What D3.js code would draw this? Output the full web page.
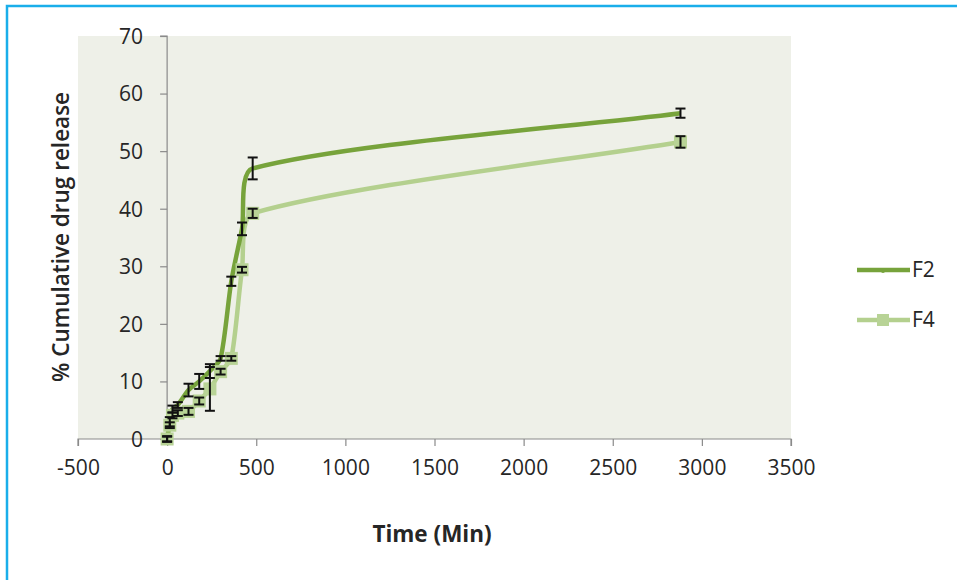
<!DOCTYPE html>
<html><head><meta charset="utf-8">
<script src="https://cdn.jsdelivr.net/npm/d3@7"></script>
<style>body{margin:0;background:#fff;}svg{display:block;font-family:"Open Sans",sans-serif;}</style>
</head><body><svg id="c" width="957" height="580"></svg>
<script>
const times = [0, 15, 30, 60, 120, 180, 240, 300, 360, 420, 480, 2880];
const f2Values = [0, 3.0, 5.2, 5.9, 8.5, 10.0, 11.8, 14.0, 27.4, 36.5, 47.0, 56.6];
const f2Errors = [0.5, 0.8, 0.6, 0.5, 1.1, 1.3, 1.2, 0.4, 0.8, 1.1, 1.9, 0.8];
const f4Values = [0, 2.4, 4.1, 4.5, 4.8, 6.6, 8.7, 11.7, 14.0, 29.4, 39.2, 51.6];
const f4Errors = [0.4, 0.5, 0.5, 0.5, 0.6, 0.6, 3.8, 0.5, 0.4, 0.5, 0.8, 1.0];
const xTicks = [-500, 0, 500, 1000, 1500, 2000, 2500, 3000, 3500];
const yTicks = [0, 10, 20, 30, 40, 50, 60, 70];
const seriesNames = ["F2", "F4"];
const colors = {F2: "#77a33b", F4: "#b4d08e"};

const svg = d3.select("#c");
const x = d3.scaleLinear().domain([-500, 3500]).range([78, 791]);
const y = d3.scaleLinear().domain([0, 70]).range([439, 36]);

svg.append("rect").attr("x", 7).attr("y", 6).attr("width", 980).attr("height", 600)
  .attr("fill", "none").attr("stroke", "#1aaeea").attr("stroke-width", 2.5);

svg.append("rect").attr("x", x(-500)).attr("y", y(70)).attr("width", x(3500) - x(-500)).attr("height", y(0) - y(70))
  .attr("fill", "#eef0e8");

const fmt = d => String(d);
const xAxis = d3.axisBottom(x).tickValues(xTicks).tickSize(7).tickPadding(14).tickFormat(fmt);
const gx = svg.append("g").attr("transform", `translate(0,${y(0)})`).call(xAxis);
const yAxis = d3.axisLeft(y).tickValues(yTicks).tickSize(7).tickPadding(17).tickFormat(fmt);
const gy = svg.append("g").attr("transform", `translate(${x(0)},0)`).call(yAxis);
[gx, gy].forEach(g => {
  g.select(".domain").attr("stroke", "#8a8a8a").attr("stroke-width", 1.2);
  g.selectAll(".tick line").attr("stroke", "#8a8a8a").attr("stroke-width", 1.2);
  g.selectAll(".tick text").attr("fill", "#262626").style("font-size", "21px").style("font-family", "'Open Sans', sans-serif");
});
gx.select(".domain").attr("d", `M${x(-500)},7V0H${x(3500)}V7`);
gy.select(".domain").attr("d", `M-7,${y(70)}H0V${y(0)}`);
gy.selectAll(".tick text").attr("dy", "0.35em");

// Excel-like smoothed line (Bezier with chord-length-weighted tangents)
function smoothPath(pts) {
  const P = pts.map(d => [x(d[0]), y(d[1])]);
  const n = P.length;
  const dist = (a, b) => Math.hypot(b[0] - a[0], b[1] - a[1]);
  const f = 0.25;
  let path = `M${P[0][0]},${P[0][1]}`;
  for (let i = 0; i < n - 1; i++) {
    const p0 = P[i], p1 = P[i + 1];
    const d = dist(p0, p1);
    let c1, c2;
    if (i === 0) {
      c1 = [p0[0] + (p1[0] - p0[0]) * f, p0[1] + (p1[1] - p0[1]) * f];
    } else {
      const pm = P[i - 1], dm = dist(pm, p0);
      const k = f * d / (dm + d);
      c1 = [p0[0] + (p1[0] - pm[0]) * k, p0[1] + (p1[1] - pm[1]) * k];
    }
    if (i === n - 2) {
      c2 = [p1[0] - (p1[0] - p0[0]) * f, p1[1] - (p1[1] - p0[1]) * f];
    } else {
      const p2 = P[i + 2], dp = dist(p1, p2);
      const k = f * d / (d + dp);
      c2 = [p1[0] - (p2[0] - p0[0]) * k, p1[1] - (p2[1] - p0[1]) * k];
    }
    path += `C${c1[0]},${c1[1]},${c2[0]},${c2[1]},${p1[0]},${p1[1]}`;
  }
  return path;
}

const data = {
  F2: times.map((t, i) => [t, f2Values[i], f2Errors[i]]),
  F4: times.map((t, i) => [t, f4Values[i], f4Errors[i]])
};

["F4", "F2"].forEach(name => {
  svg.append("path").datum(data[name]).attr("d", smoothPath).attr("fill", "none")
    .attr("stroke", colors[name]).attr("stroke-width", 4.5).attr("stroke-linejoin", "round");
});
svg.selectAll("rect.m4").data(data.F4).join("rect").attr("class", "m4")
  .attr("x", d => x(d[0]) - 6.5).attr("y", d => y(d[1]) - 6.5).attr("width", 13).attr("height", 13)
  .attr("fill", "#b8d396");

["F2", "F4"].forEach(name => {
  const g = svg.append("g").attr("stroke", "#111").attr("stroke-width", 2);
  data[name].forEach(d => {
    const cx = x(d[0]), y1 = y(d[1] + d[2]), y2 = y(d[1] - d[2]);
    g.append("line").attr("x1", cx).attr("x2", cx).attr("y1", y1).attr("y2", y2);
    g.append("line").attr("x1", cx - 5).attr("x2", cx + 5).attr("y1", y1).attr("y2", y1);
    g.append("line").attr("x1", cx - 5).attr("x2", cx + 5).attr("y1", y2).attr("y2", y2);
  });
});

svg.append("text").attr("x", 432).attr("y", 542).attr("text-anchor", "middle")
  .style("font-size", "22.5px").style("font-weight", "bold").attr("fill", "#262626").text("Time (Min)");
svg.append("text").attr("transform", `translate(69,237) rotate(-90)`).attr("text-anchor", "middle")
  .style("font-size", "22.5px").style("font-weight", "600").attr("fill", "#262626").text("% Cumulative drug release");

const leg = svg.append("g");
seriesNames.forEach((name, i) => {
  const ly = 270 + i * 50;
  leg.append("line").attr("x1", 857).attr("x2", 910).attr("y1", ly).attr("y2", ly)
    .attr("stroke", colors[name]).attr("stroke-width", 4.5);
  if (name === "F4") {
    leg.append("rect").attr("x", 877).attr("y", ly - 6).attr("width", 12).attr("height", 12).attr("fill", "#b8d396");
  } else {
    leg.append("circle").attr("cx", 883).attr("cy", ly + 1).attr("r", 2).attr("fill", colors[name]);
  }
  leg.append("text").attr("x", 912).attr("y", ly).attr("dy", "0.35em").style("font-size", "21px")
    .attr("fill", "#262626").text(name);
});
</script></body></html>
